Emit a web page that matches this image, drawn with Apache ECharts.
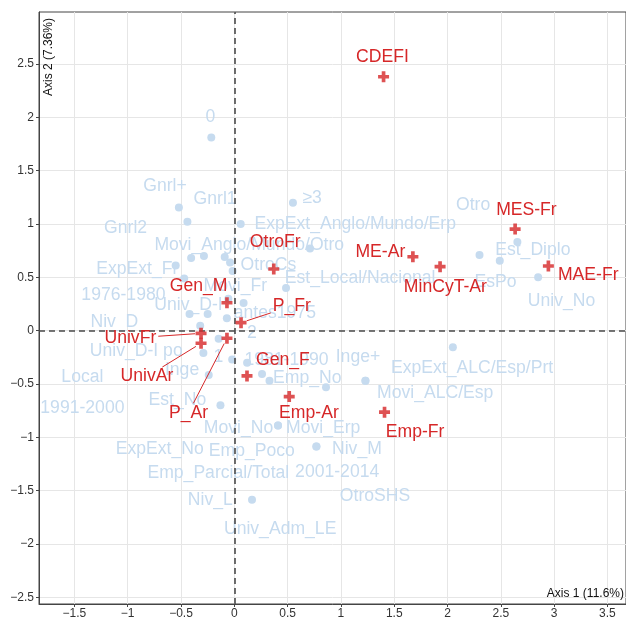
<!DOCTYPE html>
<html><head><meta charset="utf-8">
<script src="https://cdn.jsdelivr.net/npm/echarts@6/dist/echarts.min.js"></script>
<style>html,body{margin:0;padding:0;background:#fff}#c{width:626px;height:617px}</style>
</head><body><div id="c"></div>
<script>
// Axis ticks
const xTicks = [-1.5, -1, -0.5, 0, 0.5, 1, 1.5, 2, 2.5, 3, 3.5];
const yTicks = [-2.5, -2, -1.5, -1, -0.5, 0, 0.5, 1, 1.5, 2, 2.5];
const xTitle = 'Axis 1 (11.6%)';
const yTitle = 'Axis 2 (7.36%)';

// Active categories (light blue): coordinates and repelled label positions
const blueNames = ['0','Gnrl+','Gnrl2','≥3','ExpExt_Anglo/Mundo/Erp','1976-1980','Niv_D','Gnrl1','OtroCs','Univ_D-I',
  'Movi_Anglo/Mundo/Otro','Est_Local/Nacional','ExpExt_Fr','Local','Movi_Fr','antes1975','Univ_D-I po','1991-2000','2','ExpExt_No',
  '1','Emp_Parcial/Total','Emp_Poco','1981-1990','Univ_Adm_LE','2001-2014','Inge','Est_No','Emp_No','Inge+',
  'ExpExt_ALC/Esp/Prt','Otro','EsPo','Est_Diplo','Univ_No','Movi_No','Niv_M','Niv_L','Movi_ALC/Esp','Movi_Erp','OtroSHS'];
const blueX = [-0.216,-0.52,-0.44,0.55,0.06,-0.405,-0.285,-0.09,-0.04,-0.016,
  0.71,0.485,-0.55,-0.47,-0.056,0.087,-0.42,-0.25,-0.07,-0.32,
  -0.147,-0.29,-0.02,0.12,0.26,0.33,-0.24,-0.13,0.86,1.23,
  2.05,2.30,2.49,2.655,2.85,0.41,0.77,0.166,1.23,0.41,0.77];
const blueY = [1.81,1.155,1.02,1.2,1.0,0.68,0.70,0.69,0.64,0.56,
  0.77,0.40,0.61,0.49,0.30,0.26,0.156,0.156,0.116,0.045,
  -0.075,-0.21,-0.27,-0.30,-0.405,-0.47,-0.415,-0.70,-0.53,-0.47,
  -0.155,0.71,0.655,0.83,0.50,-0.89,-1.086,-1.585,-0.47,-0.89,-1.086];
const blueLabelX = [-0.225,-0.65,-1.02,0.73,1.134,-1.04,-1.125,-0.18,0.32,-0.43,
  0.14,1.18,-0.91,-1.425,0.01,0.38,-0.92,-1.425,0.166,-0.70,
  -0.15,-0.15,0.164,0.49,0.43,0.965,-0.49,-0.534,0.684,1.16,
  2.23,2.24,2.45,2.80,3.07,0.04,1.15,-0.225,1.884,0.834,1.32];
const blueLabelY = [2.0,1.355,0.96,1.24,1.0,0.334,0.08,1.23,0.615,0.24,
  0.80,0.49,0.58,-0.435,0.42,0.165,-0.19,-0.725,-0.025,-1.11,
  -0.25,-1.335,-1.133,-0.275,-1.86,-1.33,-0.37,-0.655,-0.446,-0.245,
  -0.352,1.18,0.455,0.757,0.28,-0.914,-1.11,-1.585,-0.586,-0.914,-1.554];

// Supplementary categories (red crosses)
const redNames = ['CDEFI','MES-Fr','ME-Ar','MinCyT-Ar','MAE-Fr','OtroFr','Gen_M','P_Fr','UnivFr','UnivAr','P_Ar','Gen_F','Emp-Ar','Emp-Fr'];
const redX = [1.40,2.634,1.675,1.93,2.946,0.37,-0.069,0.063,-0.312,-0.312,-0.069,0.119,0.515,1.409];
const redY = [2.38,0.952,0.693,0.60,0.606,0.578,0.262,0.075,-0.025,-0.118,-0.071,-0.424,-0.618,-0.764];
const redLabelX = [1.39,2.74,1.37,1.98,3.32,0.384,-0.335,0.54,-0.975,-0.82,-0.43,0.456,0.70,1.696];
const redLabelY = [2.565,1.13,0.74,0.41,0.52,0.833,0.42,0.231,-0.07,-0.43,-0.77,-0.274,-0.773,-0.955];

const BLUE = '#c6dbef';
const RED = '#d62728';
const FONT = '17.6px "Liberation Sans", Arial, sans-serif';
const cv = document.createElement('canvas').getContext('2d');
cv.font = FONT;
function tw(s){ return cv.measureText(s).width; }
const fmt = v => String(v).replace('-', '\u2212');

const chart = echarts.init(document.getElementById('c'), null, {renderer:'canvas'});

function labelItem(names, color, withSeg){
  return function(params, api){
    const p = api.coord([api.value(0), api.value(1)]);
    const l = api.coord([api.value(2), api.value(3)]);
    const name = names[params.dataIndex];
    const children = [];
    if (withSeg){
      const w = tw(name), hw = w/2 + 2, hh = 9.5;
      const dx = p[0]-l[0], dy = p[1]-l[1];
      const t = Math.min(Math.abs(dx) > 1e-6 ? hw/Math.abs(dx) : Infinity, Math.abs(dy) > 1e-6 ? hh/Math.abs(dy) : Infinity);
      if (t < 1){
        const ex = l[0]+dx*t, ey = l[1]+dy*t;
        const dist = Math.hypot(p[0]-ex, p[1]-ey);
        if (dist > 22){
          const k = (dist-6)/dist;
          children.push({type:'line', shape:{x1:ex, y1:ey, x2:ex+(p[0]-ex)*k, y2:ey+(p[1]-ey)*k}, style:{stroke:color, lineWidth:1}});
        }
      }
    }
    children.push({type:'text', x:l[0], y:l[1], style:{text:name, fill:color, font:FONT, align:'center', verticalAlign:'middle'}});
    return {type:'group', children};
  };
}

const option = {
  animation:false,
  backgroundColor:'#fff',
  grid:{left:39, top:12, right:0, bottom:13, show:true, borderColor:'#444', borderWidth:1, containLabel:false, outerBoundsMode:'none'},
  xAxis:{type:'value', min:-1.832, max:3.674,
    axisLine:{show:true, onZero:false, lineStyle:{color:'#444', width:1}},
    axisTick:{show:true, length:3, customValues:xTicks, lineStyle:{color:'#444'}},
    axisLabel:{customValues:xTicks, formatter:fmt, color:'#333', fontSize:12, margin:4, fontFamily:'"Liberation Sans", Arial, sans-serif'},
    splitLine:{show:true, lineStyle:{color:'#e6e6e6', width:1}}},
  yAxis:{type:'value', min:-2.562, max:2.987,
    axisLine:{show:true, onZero:false, lineStyle:{color:'#444', width:1}},
    axisTick:{show:true, length:3, customValues:yTicks, lineStyle:{color:'#444'}},
    axisLabel:{customValues:yTicks, formatter:fmt, color:'#333', fontSize:12, margin:5, fontFamily:'"Liberation Sans", Arial, sans-serif'},
    splitLine:{show:true, lineStyle:{color:'#e6e6e6', width:1}}},
  graphic:[
    {type:'text', x:49, y:57, rotation:Math.PI/2, style:{text:yTitle, fill:'#111', font:'12px "Liberation Sans", Arial, sans-serif', align:'center', verticalAlign:'middle'}, z:100},
    {type:'text', x:624, y:594, style:{text:xTitle, fill:'#111', font:'12px "Liberation Sans", Arial, sans-serif', align:'right', verticalAlign:'middle'}, z:100}
  ],
  series:[
    {type:'scatter', z:2, symbol:'circle', symbolSize:8, itemStyle:{color:BLUE, opacity:1},
      data: blueX.map((x,i)=>[x, blueY[i]]),
      markLine:{silent:true, symbol:'none', label:{show:false}, lineStyle:{color:'#4a4a4a', type:[6,4], width:1.6},
        data:[{xAxis:0},{yAxis:0}]}},
    {type:'custom', z:3, renderItem:labelItem(blueNames, BLUE, false),
      encode:{x:[0,2], y:[1,3]},
      data: blueX.map((x,i)=>[x, blueY[i], blueLabelX[i], blueLabelY[i]])},
    {type:'scatter', z:5, symbol:'path://M4,0H8V4H12V8H8V12H4V8H0V4H4Z', symbolSize:11, itemStyle:{color:RED},
      data: redX.map((x,i)=>[x, redY[i]])},
    {type:'custom', z:6, renderItem:labelItem(redNames, RED, true),
      encode:{x:[0,2], y:[1,3]},
      data: redX.map((x,i)=>[x, redY[i], redLabelX[i], redLabelY[i]])}
  ]
};
chart.setOption(option);
</script>
</body></html>
